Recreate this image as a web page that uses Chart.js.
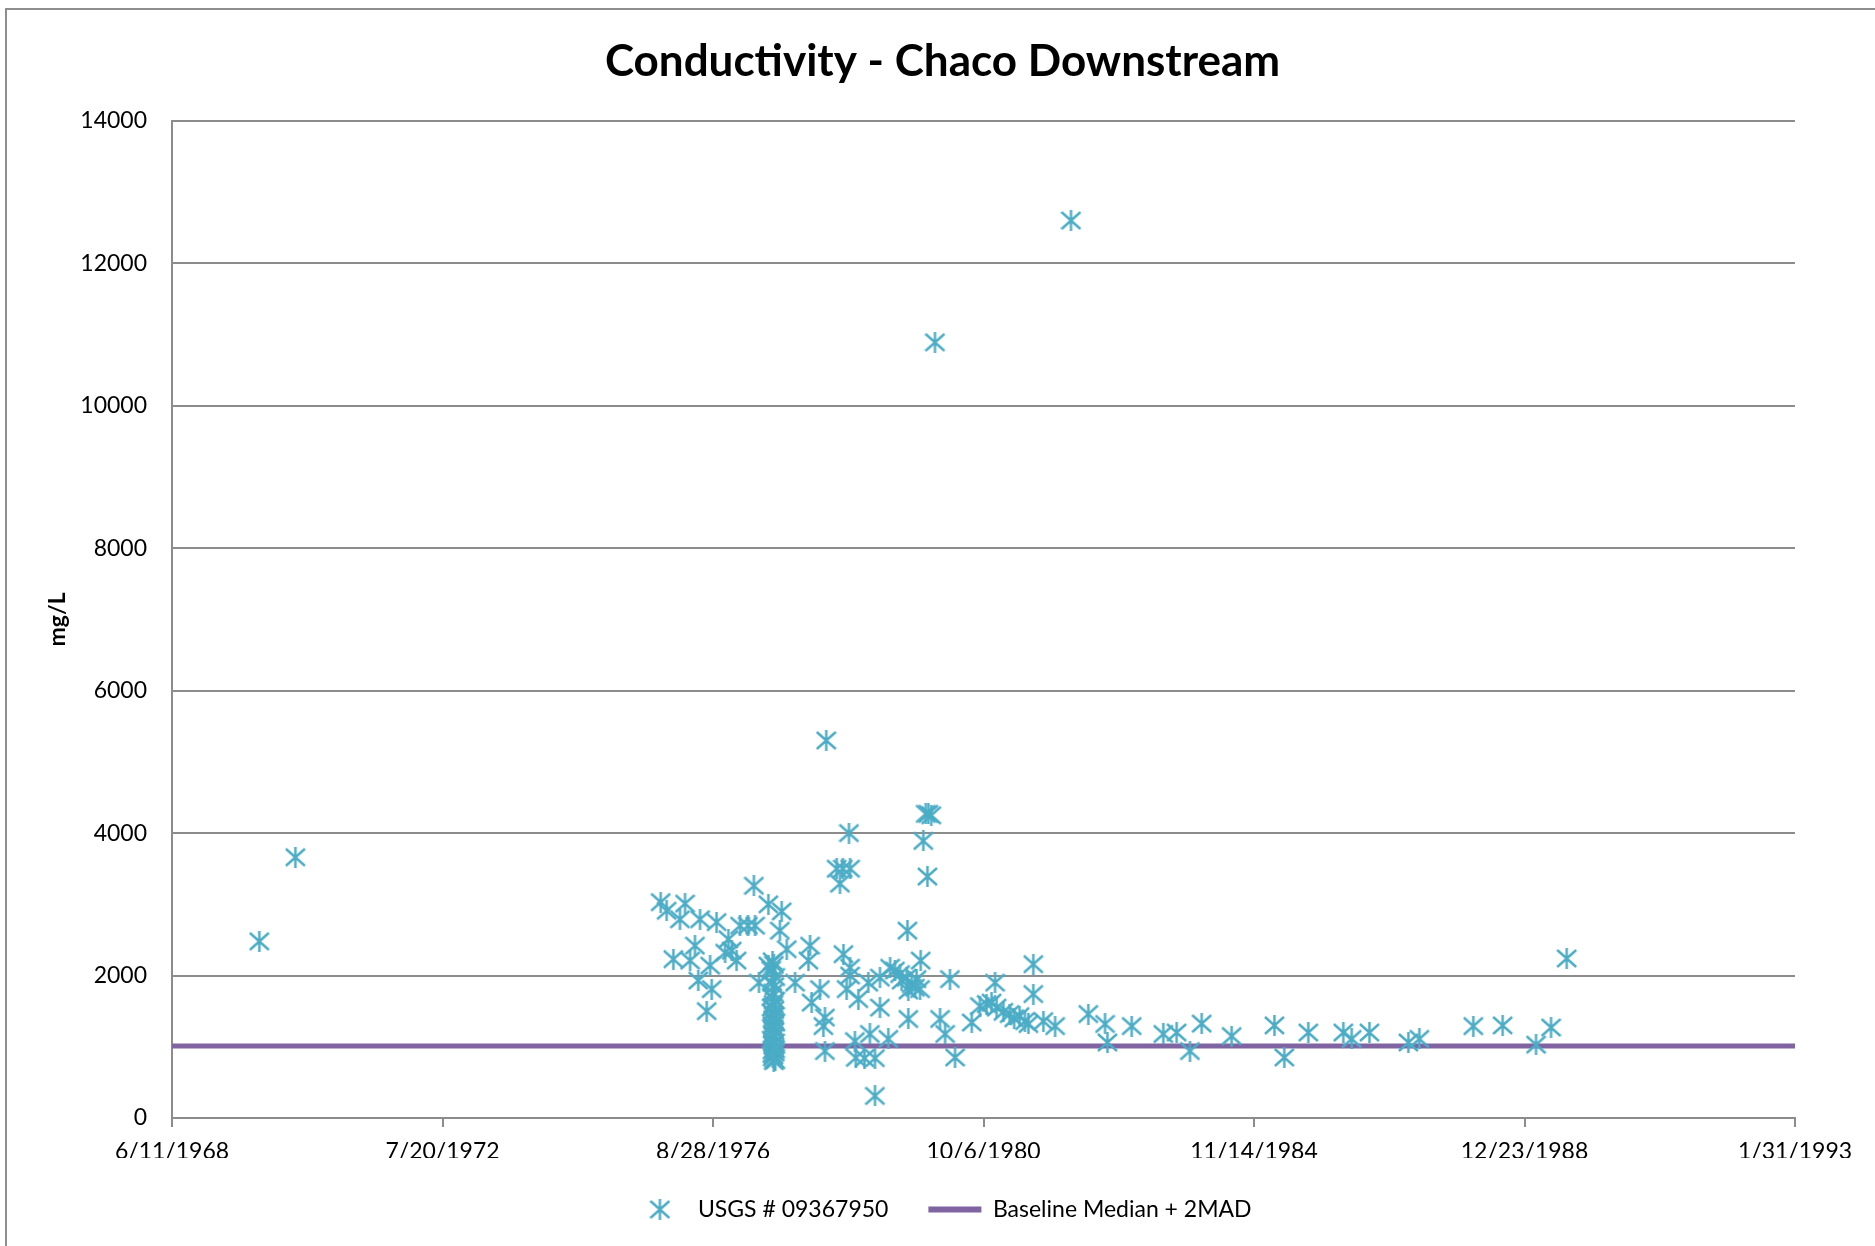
<!DOCTYPE html>
<html>
<head>
<meta charset="utf-8">
<script src="https://cdn.jsdelivr.net/npm/chart.js@4.4.0/dist/chart.umd.min.js"></script>
<style>
  html, body { margin: 0; padding: 0; background: #fff; }
  body { width: 1875px; height: 1246px; position: relative; overflow: hidden; }
  #frame { position: absolute; left: 5px; top: 8px; width: 1900px; height: 1300px;
           border-left: 2px solid #8e8e8e; border-top: 2px solid #8e8e8e; }
  #chart { position: absolute; left: 0; top: 0; }
</style>
</head>
<body>
<div id="frame"></div>
<canvas id="chart" width="1875" height="1246"></canvas>
<script>
// sample dates as Excel serial day numbers, conductivity in mg/L
const sampleDays = [
  25484, 25684,
  27710, 27743, 27780, 27817, 27845, 27873, 27900, 27918, 27928, 27965, 27984, 27993,
  28020, 28067, 28085, 28104, 28131, 28150, 28194, 28227, 28233, 28255, 28307, 28307,
  28322, 28330, 28338, 28345, 28328, 28340, 28333, 28326, 28344, 28336,
  28330, 28341, 28327, 28338, 28333, 28345, 28329, 28337, 28342, 28331,
  28339, 28327, 28344, 28334, 28340, 28329, 28343, 28336, 28332, 28341,
  28337, 28345, 28326, 28335, 28342, 28330, 28338, 28333, 28344, 28328,
  28371, 28381, 28409, 28455, 28529, 28538, 28547, 28593, 28612, 28621, 28621, 28628,
  28686, 28704, 28720, 28723, 28741, 28754, 28760, 28760, 28760, 28787, 28792, 28806,
  28840, 28861, 28870, 28898, 28898, 28926, 28926, 28972, 28982, 29009, 29037, 29046,
  29074, 29078, 29083, 29083, 29102, 29120, 29129, 29148, 29152, 29166, 29180, 29189,
  29194, 29210, 29231, 29259, 29287, 29314, 29342, 29435, 29480, 29517, 29545, 29564,
  29573, 29610, 29645, 29670, 29700, 29730, 29749, 29776, 29776, 29832, 29897, 29985,
  30081, 30174, 30187, 30322, 30497, 30571, 30645, 30710, 30876, 31113, 31168, 31301,
  31495, 31542, 31640, 31856, 31917, 32216, 32379, 32564, 32647, 32734
];
const conductivity = [
  2480, 3660,
  3030, 2910, 2230, 2790, 3010, 2210, 2420, 1930, 2790, 1500, 2140, 1810,
  2750, 2320, 2510, 2350, 2210, 2700, 2700, 3260, 2700, 1900, 3000, 2140,
  2080, 2200, 2150, 1980, 1900, 1850, 1760, 1700, 1650, 1600,
  1560, 1520, 1480, 1430, 1380, 1340, 1300, 1260, 1220, 1180,
  1140, 1100, 1060, 1020, 980, 950, 920, 880, 850, 820,
  800, 810, 1550, 1450, 1350, 1250, 1150, 1050, 960, 900,
  2630, 2900, 2370, 1900, 2210, 2420, 1620, 1810, 1290, 1410, 940, 5300,
  3500, 3290, 3500, 2300, 1810, 4000, 3500, 2110, 2000, 1080, 845, 1670,
  840, 1900, 1180, 840, 310, 1970, 1550, 1110, 2110, 2070, 2020, 1930,
  1970, 2630, 1790, 1390, 1880, 1830, 1950, 1810, 2210, 3890, 4270, 3390,
  4270, 4250, 10890, 1390, 1180, 1950, 850, 1340, 1570, 1600, 1620, 1900,
  1550, 1490, 1460, 1400, 1430, 1360, 1320, 2160, 1740, 1360, 1290, 12600,
  1460, 1320, 1060, 1290, 1180, 1200, 940, 1325, 1150, 1300, 850, 1200,
  1200, 1110, 1200, 1060, 1110, 1290, 1300, 1030, 1270, 2240
];
const baselineDays = [25000, 34000];
const baselineLevel = [1010, 1010];

const seriesNames = ['USGS # 09367950', 'Baseline Median + 2MAD'];

const gridGray = '#8c8c8c';
const tickFont = { family: 'Lato', size: 23 };

// excel serial -> M/D/YYYY
function serialToDate(serial) {
  const d = new Date(Math.round((serial - 25569) * 86400000));
  return (d.getUTCMonth() + 1) + '/' + d.getUTCDate() + '/' + d.getUTCFullYear();
}

// excel style star marker: X with a vertical bar
function starMarker(size, color) {
  const c = document.createElement('canvas');
  c.width = size;
  c.height = size;
  const g = c.getContext('2d');
  g.strokeStyle = color;
  g.lineWidth = 2.4;
  g.beginPath();
  g.moveTo(1, 2); g.lineTo(size - 1, size - 2);
  g.moveTo(size - 1, 2); g.lineTo(1, size - 2);
  g.moveTo(size / 2, 0); g.lineTo(size / 2, size);
  g.stroke();
  return c;
}

const marker = starMarker(21, '#4BACC6');

new Chart(document.getElementById('chart'), {
  type: 'scatter',
  data: {
    datasets: [
      {
        label: seriesNames[0],
        data: sampleDays.map((d, i) => ({ x: d, y: conductivity[i] })),
        pointStyle: marker,
        pointRadius: 10,
      },
      {
        type: 'line',
        label: seriesNames[1],
        data: baselineDays.map((d, i) => ({ x: d, y: baselineLevel[i] })),
        borderColor: '#8064A2',
        borderWidth: 5,
        pointRadius: 0,
        pointStyle: 'line',
        pointBorderColor: '#8064A2',
        pointBackgroundColor: '#8064A2',
        pointBorderWidth: 6,
        fill: false,
      },
    ],
  },
  options: {
    responsive: false,
    animation: false,
    layout: { padding: { left: 10, right: 0, top: 0, bottom: 15 } },
    scales: {
      x: {
        type: 'linear',
        min: 25000,
        max: 34000,
        ticks: {
          stepSize: 1500,
          maxRotation: 0,
          padding: 11,
          font: tickFont,
          color: '#000',
          callback: (v) => serialToDate(v),
        },
        grid: { drawOnChartArea: false, drawTicks: true, tickLength: 9, color: gridGray, lineWidth: 2 },
        border: { color: gridGray, width: 2 },
        afterFit: (s) => { s.height = 40; },
      },
      y: {
        min: 0,
        max: 14000,
        ticks: { stepSize: 2000, padding: 25, font: tickFont, color: '#000', callback: (v) => String(v) },
        grid: { drawTicks: false, color: gridGray, lineWidth: 2 },
        border: { color: gridGray, width: 2 },
        title: {
          display: true,
          text: 'mg/L',
          color: '#000',
          font: { family: 'Lato', size: 23, weight: 'bold' },
          padding: { top: 34, bottom: 0 },
        },
        afterFit: (s) => { s.width = 162; },
      },
      // empty spacer on the right
      pad: {
        position: 'right',
        ticks: { display: false },
        grid: { display: false },
        border: { display: false },
        afterFit: (s) => { s.width = 80; },
      },
    },
    plugins: {
      title: {
        display: true,
        text: 'Conductivity - Chaco Downstream',
        color: '#000',
        font: { family: 'Lato', size: 44, weight: 'bold' },
        padding: { top: 35, bottom: 33 },
      },
      legend: {
        position: 'bottom',
        labels: {
          usePointStyle: true,
          pointStyleWidth: 53,
          padding: 40,
          font: tickFont,
          color: '#000',
        },
      },
      tooltip: { enabled: false },
    },
  },
});
</script>
</body>
</html>
